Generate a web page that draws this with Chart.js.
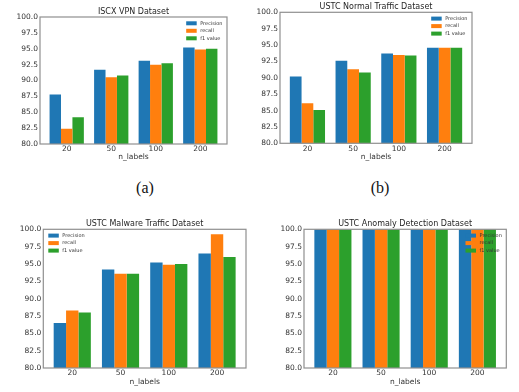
<!DOCTYPE html>
<html>
<head>
<meta charset="utf-8">
<script src="https://cdn.jsdelivr.net/npm/chart.js@4.4.1/dist/chart.umd.min.js"></script>
<style>
  body { margin: 0; background: #fff; width: 519px; height: 392px; position: relative; overflow: hidden; }
  canvas { position: absolute; }
  .cap { position: absolute; font-family: "Liberation Serif", serif; font-size: 16px; color: #111; transform: translate(-50%, -50%); }
</style>
</head>
<body>
<canvas id="chartA" width="250" height="161" style="left:0;top:0"></canvas>
<canvas id="chartB" width="250" height="161" style="left:250px;top:0"></canvas>
<canvas id="chartC" width="260" height="186" style="left:0;top:200px"></canvas>
<canvas id="chartD" width="259" height="186" style="left:260px;top:200px"></canvas>
<div class="cap" style="left:145px;top:188px">(a)</div>
<div class="cap" style="left:380px;top:188px">(b)</div>
<script>
const nLabels = ["20", "50", "100", "200"];
const yTicks = [80, 82.5, 85, 87.5, 90, 92.5, 95, 97.5, 100];
const seriesNames = ["Precision", "recall", "f1 value"];
const colors = ["#1f77b4", "#ff7f0e", "#2ca02c"];

// (a) ISCX VPN
const vpnPrecision = [87.8, 91.7, 93.1, 95.2];
const vpnRecall    = [82.4, 90.5, 92.5, 94.9];
const vpnF1        = [84.2, 90.8, 92.7, 95.0];

// (b) USTC normal traffic
const normalPrecision = [90.2, 92.6, 93.7, 94.6];
const normalRecall    = [86.1, 91.3, 93.5, 94.6];
const normalF1        = [85.1, 90.8, 93.4, 94.6];

// (c) USTC malware traffic
const malwarePrecision = [86.5, 94.2, 95.2, 96.5];
const malwareRecall    = [88.3, 93.6, 94.9, 99.3];
const malwareF1        = [88.0, 93.6, 95.0, 96.0];

// (d) USTC anomaly detection
const anomalyPrecision = [100, 100, 100, 100];
const anomalyRecall    = [100, 100, 100, 100];
const anomalyF1        = [100, 100, 100, 100];

const FONT = "DejaVu Sans";
const TEXT = "#333";

// gray box round the plot area
const framePlugin = {
  id: "frame",
  afterDatasetsDraw(chart) {
    const { ctx, chartArea: a } = chart;
    ctx.save();
    ctx.strokeStyle = "#8f8f8f";
    ctx.lineWidth = 1.2;
    ctx.strokeRect(a.left, a.top, a.right - a.left, a.bottom - a.top);
    ctx.restore();
  }
};

// title centred over the axes, not the whole canvas
const axesTitle = {
  id: "axesTitle",
  afterDraw(chart, args, opts) {
    const { ctx, chartArea: a } = chart;
    ctx.save();
    ctx.font = "8px '" + FONT + "'";
    ctx.fillStyle = "#262626";
    ctx.textAlign = "center";
    ctx.textBaseline = "middle";
    ctx.fillText(opts.text, (a.left + a.right) / 2, a.top - 5.5);
    ctx.restore();
  }
};

// small matplotlib-like legend inside the axes
const miniLegend = {
  id: "miniLegend",
  afterDraw(chart, args, opts) {
    const { ctx, chartArea: a } = chart;
    ctx.save();
    ctx.font = "5px '" + FONT + "'";
    const textW = Math.max(...chart.data.datasets.map(d => ctx.measureText(d.label).width));
    const blockW = 10.5 + 3.5 + textW;
    const x0 = opts.side === "left" ? a.left + 5 : a.right - 4.5 - blockW;
    chart.data.datasets.forEach((d, k) => {
      const yc = a.top + 6.3 + k * 7.5;
      ctx.fillStyle = d.backgroundColor;
      ctx.fillRect(x0, yc - 2, 10.5, 4);
      ctx.fillStyle = TEXT;
      ctx.textBaseline = "middle";
      ctx.fillText(d.label, x0 + 14, yc);
    });
    ctx.restore();
  }
};

function makeChart(id, title, series, box, side) {
  return new Chart(document.getElementById(id), {
    type: "bar",
    data: {
      datasets: series.map((vals, k) => ({
        label: seriesNames[k],
        data: vals.map((v, i) => ({ x: i, y: v })),
        backgroundColor: colors[k],
        borderWidth: 0
      }))
    },
    options: {
      responsive: false,
      animation: false,
      layout: { padding: { left: 0, right: box.padRight, top: box.padTop, bottom: 0 } },
      datasets: { bar: { categoryPercentage: 0.77, barPercentage: 1 } },
      plugins: {
        legend: { display: false },
        tooltip: { enabled: false },
        title: { display: false },
        axesTitle: { text: title },
        miniLegend: { side: side }
      },
      scales: {
        x: {
          type: "linear",
          min: -0.6,
          max: 3.6,
          offset: false,
          grid: { display: false, drawTicks: false },
          border: { display: false },
          afterBuildTicks: s => { s.ticks = nLabels.map((_, i) => ({ value: i })); },
          afterFit: s => { s.height = box.xAxisH; },
          ticks: {
            autoSkip: false,
            maxRotation: 0,
            padding: 1,
            color: TEXT,
            font: { family: FONT, size: 7.5 },
            callback: v => nLabels[v]
          },
          title: {
            display: true,
            text: "n_labels",
            color: TEXT,
            font: { family: FONT, size: 7.5, lineHeight: 1 },
            padding: 0
          }
        },
        y: {
          min: 80,
          max: 100,
          grid: { display: false, drawTicks: false },
          border: { display: false },
          afterBuildTicks: s => { s.ticks = yTicks.map(v => ({ value: v })); },
          afterFit: s => { s.width = box.axisW; },
          ticks: {
            padding: 2,
            color: TEXT,
            font: { family: FONT, size: 7.5 },
            callback: v => v.toFixed(1)
          }
        }
      }
    },
    plugins: [framePlugin, axesTitle, miniLegend]
  });
}

makeChart("chartA", "ISCX VPN Dataset", [vpnPrecision, vpnRecall, vpnF1],
  { axisW: 40, padRight: 23, padTop: 17, xAxisH: 17 }, "right");
makeChart("chartB", "USTC Normal Traffic Dataset", [normalPrecision, normalRecall, normalF1],
  { axisW: 30, padRight: 28, padTop: 12.3, xAxisH: 17.7 }, "right");
makeChart("chartC", "USTC Malware Traffic Dataset", [malwarePrecision, malwareRecall, malwareF1],
  { axisW: 43.3, padRight: 14, padTop: 29.3, xAxisH: 18 }, "left");
makeChart("chartD", "USTC Anomaly Detection Dataset", [anomalyPrecision, anomalyRecall, anomalyF1],
  { axisW: 44, padRight: 12.7, padTop: 29.3, xAxisH: 18 }, "right");
</script>
</body>
</html>
